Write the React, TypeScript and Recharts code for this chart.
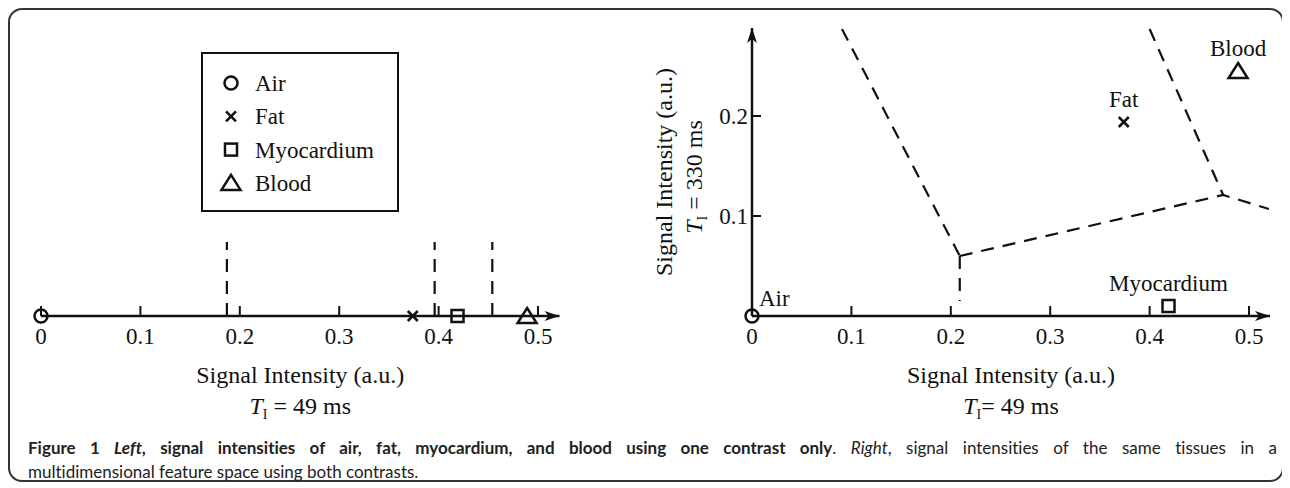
import React from 'react';
import { ScatterChart, Scatter, XAxis, YAxis, Legend, ReferenceLine, ReferenceDot } from 'recharts';

const SERIF = "'Liberation Serif', 'Times New Roman', serif";
const INK = '#111';

// tissues and their signal intensities (a.u.)
const tissues = ['Air', 'Fat', 'Myocardium', 'Blood'];
const markerKinds = ['circle', 'cross', 'square', 'triangle'];
const siShort = [0, 0.374, 0.419, 0.489]; // T_I = 49 ms
const siLong = [0, 0.194, 0.01, 0.245]; // T_I = 330 ms

const xTicks = [0, 0.1, 0.2, 0.3, 0.4, 0.5];
const yTicks = [0.1, 0.2];
const xMaxLeft = 0.5216;
const xMaxRight = 0.5211;
const yMaxRight = 0.288;

// 1D thresholds (left) and 2D decision boundaries (right)
const thresholds1D = [0.187, 0.396, 0.454];
const thresholdTop = 0.25;
const boundaryAirFat = [[0.0905, 0.287], [0.209, 0.06]];
const boundaryAirMyo = [[0.209, 0.06], [0.209, 0.015]];
const boundaryMyo = [[0.209, 0.06], [0.474, 0.121], [0.52, 0.107]];
const boundaryFatBlood = [[0.4, 0.287], [0.474, 0.121]];

const Marker = ({ kind, cx, cy }: { kind: string; cx: number; cy: number }) => {
  const sw = 2.5;
  if (kind === 'circle') return <circle cx={cx} cy={cy} r={6.5} fill="none" stroke={INK} strokeWidth={sw} />;
  if (kind === 'cross')
    return (
      <path
        d={`M${cx - 5},${cy - 5}L${cx + 5},${cy + 5}M${cx - 5},${cy + 5}L${cx + 5},${cy - 5}`}
        stroke={INK}
        strokeWidth={sw}
      />
    );
  if (kind === 'square')
    return <rect x={cx - 6} y={cy - 6} width={12} height={12} fill="none" stroke={INK} strokeWidth={sw} />;
  return (
    <path d={`M${cx},${cy - 8}L${cx + 9.5},${cy + 7}L${cx - 9.5},${cy + 7}Z`} fill="none" stroke={INK} strokeWidth={sw} />
  );
};

const ArrowRight = (p: any) => (
  <path d={`M${p.cx},${p.cy}L${p.cx - 15},${p.cy - 5}L${p.cx - 11},${p.cy}L${p.cx - 15},${p.cy + 5}Z`} fill={INK} />
);
const ArrowUp = (p: any) => (
  <path d={`M${p.cx},${p.cy}L${p.cx - 5},${p.cy + 15}L${p.cx},${p.cy + 11}L${p.cx + 5},${p.cy + 15}Z`} fill={INK} />
);

const XTick = ({ x, y, payload }: any) => (
  <g>
    <line x1={x} x2={x} y1={y} y2={y - 10} stroke={INK} strokeWidth={2} />
    <text x={x} y={y + 28} textAnchor="middle" fontFamily={SERIF} fontSize={23} fill={INK}>
      {payload.value}
    </text>
  </g>
);

const YTick = ({ x, y, payload }: any) => (
  <g>
    <line x1={x} x2={x + 9} y1={y} y2={y} stroke={INK} strokeWidth={2} />
    <text x={x - 4} y={y + 8} textAnchor="end" fontFamily={SERIF} fontSize={23} fill={INK}>
      {payload.value}
    </text>
  </g>
);

const TiText = ({ rest }: { rest: string }) => (
  <>
    <tspan fontStyle="italic">T</tspan>
    <tspan fontSize={14} dy={5}>I</tspan>
    <tspan dy={-5}>{rest}</tspan>
  </>
);

const XTitle = ({ viewBox, rest }: any) => {
  const cx = viewBox.x + viewBox.width / 2;
  const y = viewBox.y;
  return (
    <g fontFamily={SERIF} fontSize={24} fill={INK}>
      <text x={cx} y={y + 67} textAnchor="middle">Signal Intensity (a.u.)</text>
      <text x={cx} y={y + 98} textAnchor="middle">
        <TiText rest={rest} />
      </text>
    </g>
  );
};

const YTitle = ({ viewBox }: any) => {
  const cy = viewBox.y + viewBox.height / 2;
  const cy2 = cy + 5;
  return (
    <g fontFamily={SERIF} fontSize={24} fill={INK}>
      <text x={32} y={cy} transform={`rotate(-90, 32, ${cy})`} textAnchor="middle">
        Signal Intensity (a.u.)
      </text>
      <text x={62} y={cy2} transform={`rotate(-90, 62, ${cy2})`} textAnchor="middle">
        <TiText rest=" = 330 ms" />
      </text>
    </g>
  );
};

const LegendBox = () => (
  <div style={{ width: 198, height: 160, border: `2px solid ${INK}`, boxSizing: 'border-box', background: '#fff' }}>
    <svg width={194} height={156}>
      {tissues.map((name, i) => (
        <g key={name}>
          <Marker kind={markerKinds[i]} cx={28} cy={29 + i * 33.3} />
          <text x={52} y={29 + i * 33.3 + 8} fontFamily={SERIF} fontSize={23} fill={INK}>
            {name}
          </text>
        </g>
      ))}
    </svg>
  </div>
);

const OneContrast = () => {
  const points = tissues.map((name, i) => ({ name, x: siShort[i], y: 0 }));
  return (
    <ScatterChart width={630} height={420} margin={{ top: 10, right: 80.5, bottom: 14, left: 31 }}>
      <XAxis
        type="number"
        dataKey="x"
        domain={[0, xMaxLeft]}
        ticks={xTicks}
        interval={0}
        tickSize={0}
        tickMargin={0}
        tickLine={false}
        tick={(p: any) => <XTick {...p} />}
        axisLine={{ stroke: INK, strokeWidth: 2.5 }}
        height={100}
        label={(p: any) => <XTitle {...p} rest=" = 49 ms" />}
      />
      <YAxis type="number" dataKey="y" domain={[0, 1]} hide />
      {thresholds1D.map((t) => (
        <ReferenceLine
          key={t}
          segment={[{ x: t, y: 0 }, { x: t, y: thresholdTop }]}
          stroke={INK}
          strokeWidth={2.2}
          strokeDasharray="13 9"
        />
      ))}
      {points.map((p, i) => (
        <Scatter
          key={p.name}
          name={p.name}
          data={[p]}
          isAnimationActive={false}
          shape={(s: any) => <Marker kind={markerKinds[i]} cx={s.cx} cy={s.cy} />}
        />
      ))}
      <ReferenceDot x={xMaxLeft} y={0} r={0} shape={(s: any) => <ArrowRight {...s} />} />
      <Legend
        layout="vertical"
        align="center"
        verticalAlign="middle"
        wrapperStyle={{ left: 191, top: 42, width: 198, height: 160 }}
        content={() => <LegendBox />}
      />
    </ScatterChart>
  );
};

const toPts = (arr: number[][]) => arr.map(([x, y]) => ({ x, y }));

const TwoContrasts = () => {
  const points = tissues.map((name, i) => ({ name, x: siShort[i], y: siLong[i] }));
  const boundaries = [boundaryAirFat, boundaryAirMyo, boundaryMyo, boundaryFatBlood];
  return (
    <ScatterChart width={640} height={420} margin={{ top: 18, right: 10, bottom: 14, left: 0 }}>
      <XAxis
        type="number"
        dataKey="x"
        domain={[0, xMaxRight]}
        ticks={xTicks}
        interval={0}
        tickSize={0}
        tickMargin={0}
        tickLine={false}
        tick={(p: any) => <XTick {...p} />}
        axisLine={{ stroke: INK, strokeWidth: 2.5 }}
        height={100}
        label={(p: any) => <XTitle {...p} rest="= 49 ms" />}
      />
      <YAxis
        type="number"
        dataKey="y"
        domain={[0, yMaxRight]}
        ticks={yTicks}
        interval={0}
        tickSize={0}
        tickMargin={0}
        tickLine={false}
        tick={(p: any) => <YTick {...p} />}
        axisLine={{ stroke: INK, strokeWidth: 2.5 }}
        width={112}
        label={(p: any) => <YTitle {...p} />}
      />
      {boundaries.map((b, i) => (
        <Scatter
          key={i}
          data={toPts(b)}
          isAnimationActive={false}
          line={{ stroke: INK, strokeWidth: 2.2, strokeDasharray: '13 9' }}
          shape={() => <g />}
        />
      ))}
      {points.map((p, i) => (
        <Scatter
          key={p.name}
          name={p.name}
          data={[p]}
          isAnimationActive={false}
          shape={(s: any) => (
            <g>
              <Marker kind={markerKinds[i]} cx={s.cx} cy={s.cy} />
              {p.name === 'Air' ? (
                <text x={s.cx + 7} y={s.cy - 10} fontFamily={SERIF} fontSize={23} fill={INK}>
                  {p.name}
                </text>
              ) : (
                <text x={s.cx} y={s.cy - 15} textAnchor="middle" fontFamily={SERIF} fontSize={23} fill={INK}>
                  {p.name}
                </text>
              )}
            </g>
          )}
        />
      ))}
      <ReferenceDot x={xMaxRight} y={0} r={0} shape={(s: any) => <ArrowRight {...s} />} />
      <ReferenceDot x={0} y={yMaxRight} r={0} shape={(s: any) => <ArrowUp {...s} />} />
    </ScatterChart>
  );
};

export default function App() {
  return (
    <div
      style={{
        position: 'relative',
        width: 1276,
        height: 474,
        border: '2px solid #333',
        borderRadius: 14,
        boxSizing: 'border-box',
        background: '#fff',
      }}
    >
      <div style={{ position: 'absolute', left: 0, top: 0 }}>
        <OneContrast />
      </div>
      <div style={{ position: 'absolute', left: 630, top: 0 }}>
        <TwoContrasts />
      </div>
      <div
        style={{
          position: 'absolute',
          left: 18,
          top: 426,
          width: 1249,
          fontFamily: "Lato, 'Open Sans', sans-serif",
          fontSize: 17,
          lineHeight: '24px',
          color: '#222',
          fontVariantLigatures: 'none',
        }}
      >
        <div style={{ textAlign: 'justify', textAlignLast: 'justify', whiteSpace: 'nowrap' }}>
          <b>
            Figure 1 <i>Left</i>, signal intensities of air, fat, myocardium, and blood using one contrast only
          </b>
          . <i>Right</i>, signal intensities of the same tissues in a
        </div>
        <div style={{ whiteSpace: 'nowrap' }}>multidimensional feature space using both contrasts.</div>
      </div>
    </div>
  );
}
